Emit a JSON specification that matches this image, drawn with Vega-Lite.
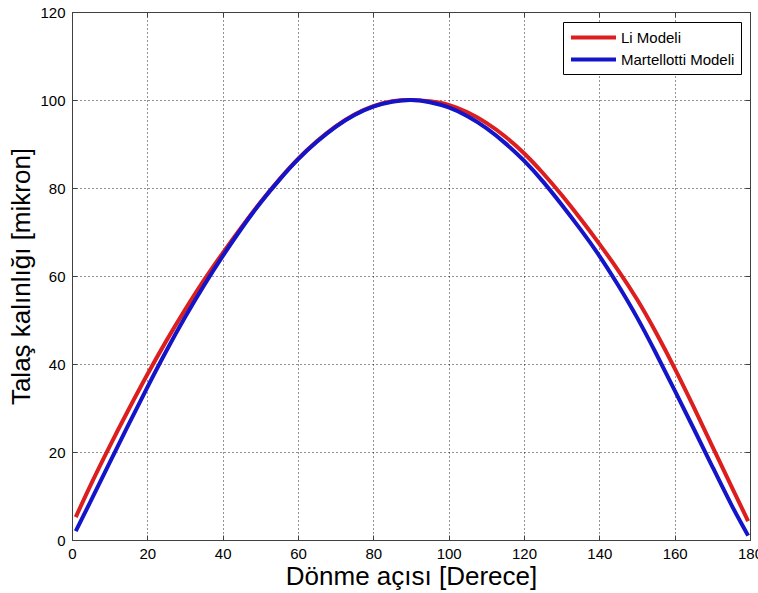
{
  "$schema": "https://vega.github.io/schema/vega-lite/v6.json",
  "width": 678,
  "height": 528,
  "autosize": "none",
  "padding": {"left": 72, "top": 12, "right": 8, "bottom": 53},
  "background": "white",
  "config": {
    "view": {"stroke": "#404040", "strokeWidth": 1},
    "axis": {
      "labelFont": "Liberation Sans",
      "labelFontSize": 15,
      "labelColor": "#000000",
      "labelFlush": false,
      "titleFont": "Liberation Sans",
      "titleFontSize": 26,
      "titleFontWeight": "normal",
      "titleColor": "#000000",
      "domainColor": "#404040",
      "tickColor": "#404040",
      "gridColor": "#000000",
      "gridDash": [1, 3],
      "gridOpacity": 0.85,
      "gridWidth": 1
    }
  },
  "data": {
    "values": [
      {"aci": 1, "kalinlik": 5.2, "model": "Li Modeli"},
      {"aci": 5, "kalinlik": 12.6, "model": "Li Modeli"},
      {"aci": 10, "kalinlik": 21.3, "model": "Li Modeli"},
      {"aci": 15, "kalinlik": 29.6, "model": "Li Modeli"},
      {"aci": 20, "kalinlik": 37.6, "model": "Li Modeli"},
      {"aci": 25, "kalinlik": 45.2, "model": "Li Modeli"},
      {"aci": 30, "kalinlik": 52.3, "model": "Li Modeli"},
      {"aci": 35, "kalinlik": 59.0, "model": "Li Modeli"},
      {"aci": 40, "kalinlik": 65.2, "model": "Li Modeli"},
      {"aci": 45, "kalinlik": 71.1, "model": "Li Modeli"},
      {"aci": 50, "kalinlik": 76.7, "model": "Li Modeli"},
      {"aci": 55, "kalinlik": 81.9, "model": "Li Modeli"},
      {"aci": 60, "kalinlik": 86.6, "model": "Li Modeli"},
      {"aci": 65, "kalinlik": 90.6, "model": "Li Modeli"},
      {"aci": 70, "kalinlik": 94.0, "model": "Li Modeli"},
      {"aci": 75, "kalinlik": 96.7, "model": "Li Modeli"},
      {"aci": 80, "kalinlik": 98.6, "model": "Li Modeli"},
      {"aci": 85, "kalinlik": 99.7, "model": "Li Modeli"},
      {"aci": 90, "kalinlik": 100.0, "model": "Li Modeli"},
      {"aci": 95, "kalinlik": 99.7, "model": "Li Modeli"},
      {"aci": 100, "kalinlik": 98.9, "model": "Li Modeli"},
      {"aci": 105, "kalinlik": 97.2, "model": "Li Modeli"},
      {"aci": 110, "kalinlik": 94.8, "model": "Li Modeli"},
      {"aci": 115, "kalinlik": 91.7, "model": "Li Modeli"},
      {"aci": 120, "kalinlik": 87.9, "model": "Li Modeli"},
      {"aci": 125, "kalinlik": 83.4, "model": "Li Modeli"},
      {"aci": 130, "kalinlik": 78.4, "model": "Li Modeli"},
      {"aci": 135, "kalinlik": 73.0, "model": "Li Modeli"},
      {"aci": 140, "kalinlik": 67.3, "model": "Li Modeli"},
      {"aci": 145, "kalinlik": 61.3, "model": "Li Modeli"},
      {"aci": 150, "kalinlik": 54.7, "model": "Li Modeli"},
      {"aci": 155, "kalinlik": 47.2, "model": "Li Modeli"},
      {"aci": 160, "kalinlik": 39.0, "model": "Li Modeli"},
      {"aci": 165, "kalinlik": 30.3, "model": "Li Modeli"},
      {"aci": 170, "kalinlik": 21.3, "model": "Li Modeli"},
      {"aci": 175, "kalinlik": 12.3, "model": "Li Modeli"},
      {"aci": 179.5, "kalinlik": 4.3, "model": "Li Modeli"},
      {"aci": 1, "kalinlik": 2.0, "model": "Martellotti Modeli"},
      {"aci": 5, "kalinlik": 8.9, "model": "Martellotti Modeli"},
      {"aci": 10, "kalinlik": 17.6, "model": "Martellotti Modeli"},
      {"aci": 15, "kalinlik": 26.2, "model": "Martellotti Modeli"},
      {"aci": 20, "kalinlik": 34.7, "model": "Martellotti Modeli"},
      {"aci": 25, "kalinlik": 42.9, "model": "Martellotti Modeli"},
      {"aci": 30, "kalinlik": 50.6, "model": "Martellotti Modeli"},
      {"aci": 35, "kalinlik": 57.8, "model": "Martellotti Modeli"},
      {"aci": 40, "kalinlik": 64.5, "model": "Martellotti Modeli"},
      {"aci": 45, "kalinlik": 70.8, "model": "Martellotti Modeli"},
      {"aci": 50, "kalinlik": 76.6, "model": "Martellotti Modeli"},
      {"aci": 55, "kalinlik": 81.8, "model": "Martellotti Modeli"},
      {"aci": 60, "kalinlik": 86.5, "model": "Martellotti Modeli"},
      {"aci": 65, "kalinlik": 90.5, "model": "Martellotti Modeli"},
      {"aci": 70, "kalinlik": 93.9, "model": "Martellotti Modeli"},
      {"aci": 75, "kalinlik": 96.6, "model": "Martellotti Modeli"},
      {"aci": 80, "kalinlik": 98.5, "model": "Martellotti Modeli"},
      {"aci": 85, "kalinlik": 99.6, "model": "Martellotti Modeli"},
      {"aci": 90, "kalinlik": 100.0, "model": "Martellotti Modeli"},
      {"aci": 95, "kalinlik": 99.5, "model": "Martellotti Modeli"},
      {"aci": 100, "kalinlik": 98.3, "model": "Martellotti Modeli"},
      {"aci": 105, "kalinlik": 96.3, "model": "Martellotti Modeli"},
      {"aci": 110, "kalinlik": 93.6, "model": "Martellotti Modeli"},
      {"aci": 115, "kalinlik": 90.2, "model": "Martellotti Modeli"},
      {"aci": 120, "kalinlik": 86.2, "model": "Martellotti Modeli"},
      {"aci": 125, "kalinlik": 81.5, "model": "Martellotti Modeli"},
      {"aci": 130, "kalinlik": 76.2, "model": "Martellotti Modeli"},
      {"aci": 135, "kalinlik": 70.6, "model": "Martellotti Modeli"},
      {"aci": 140, "kalinlik": 64.6, "model": "Martellotti Modeli"},
      {"aci": 145, "kalinlik": 57.9, "model": "Martellotti Modeli"},
      {"aci": 150, "kalinlik": 50.6, "model": "Martellotti Modeli"},
      {"aci": 155, "kalinlik": 42.5, "model": "Martellotti Modeli"},
      {"aci": 160, "kalinlik": 34.0, "model": "Martellotti Modeli"},
      {"aci": 165, "kalinlik": 25.4, "model": "Martellotti Modeli"},
      {"aci": 170, "kalinlik": 16.7, "model": "Martellotti Modeli"},
      {"aci": 175, "kalinlik": 8.1, "model": "Martellotti Modeli"},
      {"aci": 179.5, "kalinlik": 1.0, "model": "Martellotti Modeli"}
    ]
  },
  "layer": [
    {
      "mark": {"type": "line", "strokeWidth": 4, "interpolate": "natural"},
      "encoding": {
        "x": {
          "field": "aci", "type": "quantitative",
          "scale": {"domain": [0, 180], "nice": false},
          "axis": {"title": "Dönme açısı [Derece]", "values": [0, 20, 40, 60, 80, 100, 120, 140, 160, 180], "grid": true, "tickSize": -5, "labelPadding": 11, "titlePadding": 2}
        },
        "y": {
          "field": "kalinlik", "type": "quantitative",
          "scale": {"domain": [0, 120], "nice": false},
          "axis": {"title": "Talaş kalınlığı [mikron]", "values": [0, 20, 40, 60, 80, 100, 120], "grid": true, "tickSize": -5, "labelPadding": 12, "titlePadding": 5}
        },
        "color": {
          "field": "model", "type": "nominal",
          "scale": {"domain": ["Li Modeli", "Martellotti Modeli"], "range": ["#dc1e1e", "#1414c8"]},
          "legend": {
            "title": null,
            "orient": "none",
            "legendX": 491,
            "legendY": 10,
            "direction": "vertical",
            "symbolType": "M-3,0H3",
            "symbolSize": 225,
            "symbolOffset": 15,
            "symbolStrokeWidth": 4,
            "labelFont": "Liberation Sans",
            "labelFontSize": 15,
            "labelColor": "#000000",
            "labelOffset": 18,
            "rowPadding": 4,
            "padding": 6,
            "strokeColor": "#000000",
            "fillColor": "#ffffff"
          }
        }
      }
    },
    {
      "mark": {"type": "line", "opacity": 0},
      "encoding": {
        "x": {
          "field": "aci", "type": "quantitative",
          "scale": {"domain": [0, 180], "nice": false},
          "axis": {"orient": "top", "title": null, "labels": false, "values": [0, 20, 40, 60, 80, 100, 120, 140, 160, 180], "tickSize": -5, "grid": false}
        },
        "y": {
          "field": "kalinlik", "type": "quantitative",
          "scale": {"domain": [0, 120], "nice": false},
          "axis": {"orient": "right", "title": null, "labels": false, "values": [0, 20, 40, 60, 80, 100, 120], "tickSize": -5, "grid": false}
        }
      }
    }
  ],
  "resolve": {"axis": {"x": "independent", "y": "independent"}}
}
